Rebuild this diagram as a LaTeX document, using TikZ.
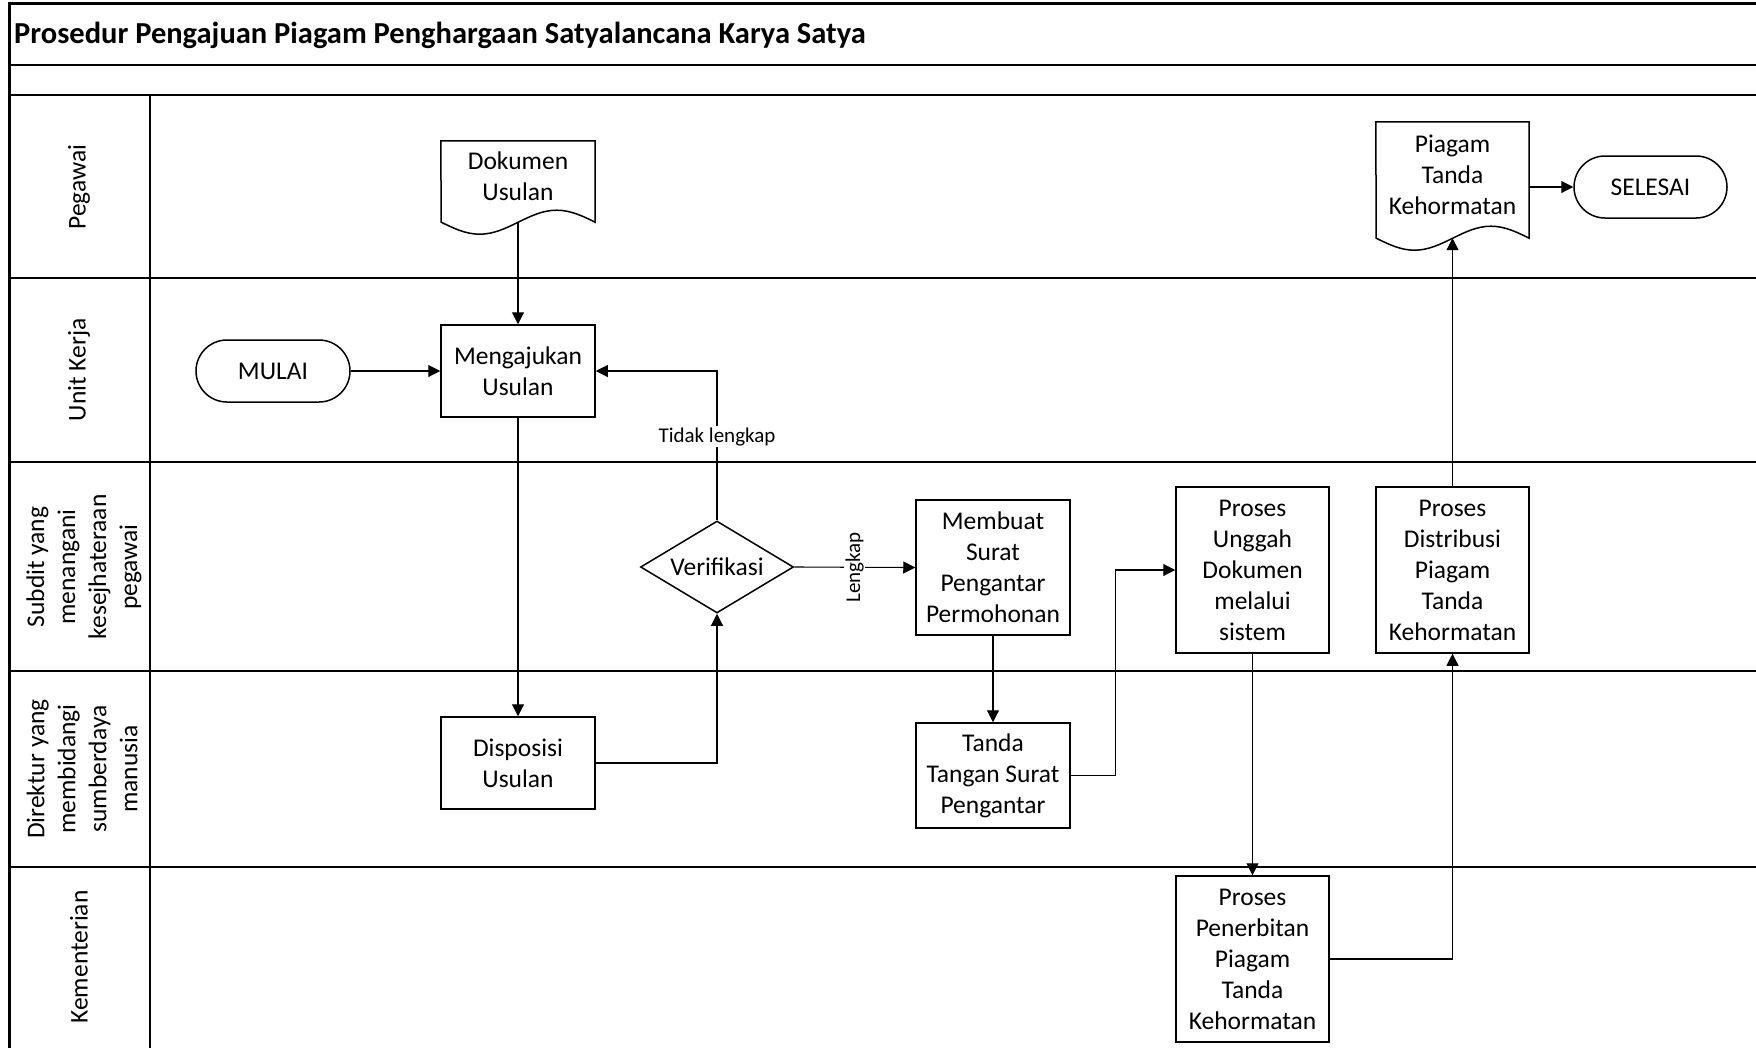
\documentclass[tikz,border=0pt]{standalone}
\usepackage{fontspec}
\setmainfont{Carlito}
\usetikzlibrary{shapes.geometric,shapes.misc,arrows.meta,calc}
\begin{document}
\begin{tikzpicture}[x=1pt,y=-1pt,
  boxtxt/.style={font=\fontsize{25.5}{31}\selectfont,align=center,inner sep=0pt},
  box/.style={boxtxt,draw,line width=1.5pt,rectangle,minimum width=154pt},
  docnode/.style={boxtxt,rectangle,minimum width=154pt},
  docline/.style={line width=1.5pt},
  term/.style={boxtxt,draw,line width=1.5pt,rounded rectangle,minimum width=154pt,minimum height=62pt},
  decision/.style={boxtxt,draw,line width=1.5pt,diamond,aspect=1.66,minimum width=153pt,minimum height=92pt},
  lanetxt/.style={font=\fontsize{25.5}{31}\selectfont,align=center,inner sep=0pt,rotate=90},
  lbl/.style={font=\fontsize{21}{25}\selectfont,fill=white,inner sep=1.5pt},
  arr/.style={line width=1.1pt,-{Triangle[length=12pt,width=12pt]}},
  laneline/.style={line width=2.2pt},
]
\useasboundingbox (0,0) rectangle (1756,1047);
\clip (0,0) rectangle (1756,1047);
\fill[white] (0,0) rectangle (1756,1047);

% frame and lanes
\draw[line width=3pt] (9,3) rectangle (1770,1060);
\draw[laneline] (9,65) -- (1770,65);
\draw[laneline] (9,95) -- (1770,95);
\draw[laneline] (9,278) -- (1770,278);
\draw[laneline] (9,462) -- (1770,462);
\draw[laneline] (9,671) -- (1770,671);
\draw[laneline] (9,867) -- (1770,867);
\draw[line width=1.5pt] (150,95) -- (150,1060);

\node[anchor=west,font=\fontsize{30.5}{36}\selectfont\bfseries,inner sep=0pt] (title) at (14,35) {Prosedur Pengajuan Piagam Penghargaan Satyalancana Karya Satya};

% lane labels
\node[lanetxt] (lpeg) at (79,187) {Pegawai};
\node[lanetxt] (lunit) at (79,370) {Unit Kerja};
\node[lanetxt] (lsub) at (84,567) {Subdit yang\\menangani\\kesejhateraan\\pegawai};
\node[lanetxt] (ldir) at (82,769) {Direktur yang\\membidangi\\sumberdaya\\manusia};
\node[lanetxt] (lkem) at (79,957) {Kementerian};

% nodes
\node[docnode,minimum height=70pt] (dok) at (518,176) {Dokumen\\Usulan};
\coordinate (dokb) at ($(dok.south)+(0,11)$);
\draw[docline] (dok.north west) -- (dok.north east) -- ($(dok.south east)+(0,11)$)
  sin ++(-38.5,-12) cos ++(-38.5,12) sin ++(-38.5,12) cos ++(-38.5,-12) -- cycle;

\node[term] (mulai) at (273,371) {MULAI};
\node[box,minimum height=92pt] (ajukan) at (518,371) {Mengajukan\\Usulan};
\node[box,minimum height=92pt] (disposisi) at (518,763) {Disposisi\\Usulan};
\node[decision] (verif) at (717,567) {Verifikasi};
\node[box,minimum height=135pt] (membuat) at (993,567.5) {Membuat\\Surat\\Pengantar\\Permohonan};
\node[box,minimum height=105pt] (ttd) at (993,775.5) {Tanda\\Tangan Surat\\Pengantar};
\node[box,minimum width=153pt,minimum height=166pt] (unggah) at (1252.5,570) {Proses\\Unggah\\Dokumen\\melalui\\sistem};
\node[box,minimum width=153pt,minimum height=166pt] (distribusi) at (1452.5,570) {Proses\\Distribusi\\Piagam\\Tanda\\Kehormatan};
\node[box,minimum width=153pt,minimum height=166pt] (terbit) at (1252.5,959) {Proses\\Penerbitan\\Piagam\\Tanda\\Kehormatan};

\node[docnode,minimum width=153pt,minimum height=106pt] (piagam) at (1452.5,175) {Piagam\\Tanda\\Kehormatan};
\coordinate (piagamb) at ($(piagam.south)+(0,10)$);
\draw[docline] (piagam.north west) -- (piagam.north east) -- ($(piagam.south east)+(0,10)$)
  sin ++(-38.25,-12) cos ++(-38.25,12) sin ++(-38.25,12) cos ++(-38.25,-12) -- cycle;
\node[term,minimum width=153pt] (selesai) at (1650.5,187) {SELESAI};

% connectors
\draw[arr] (dokb) -- (ajukan.north);
\draw[arr] (mulai.east) -- (ajukan.west);
\draw[arr] (ajukan.south) -- (disposisi.north);
\draw[arr] (disposisi.east) -| (verif.south);
\draw[arr] (verif.north) |- node[lbl,pos=0.28] {Tidak lengkap} (ajukan.east);
\draw[arr] (verif.east) -- node[lbl,midway,rotate=90] {Lengkap} (membuat.west);
\draw[arr] (membuat.south) -- (ttd.north);
\draw[arr] (ttd.east) -- ++(45,0) |- (unggah.west);
\draw[arr] (unggah.south) -- (terbit.north);
\draw[arr] (terbit.east) -| (distribusi.south);
\draw[arr] (distribusi.north) -- (distribusi.north |- piagamb);
\draw[arr] (piagam.east |- selesai.west) -- (selesai.west);
\end{tikzpicture}
\end{document}
